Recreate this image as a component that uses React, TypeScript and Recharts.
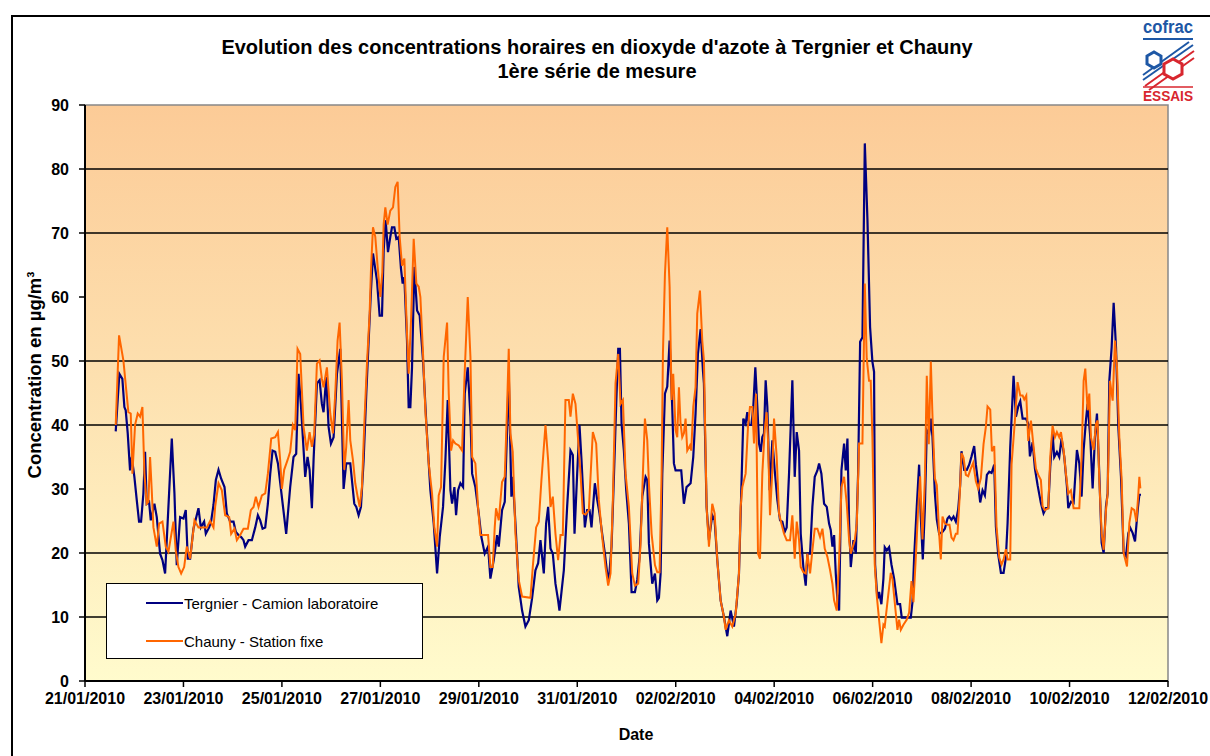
import React from 'react';
import { LineChart, Line, XAxis, YAxis, ReferenceLine, ReferenceArea } from 'recharts';

const FONT = '"Liberation Sans", Arial, Helvetica, sans-serif';

const titleLines = [
  "Evolution des concentrations horaires en dioxyde d'azote à Tergnier et Chauny",
  '1ère série de mesure',
];
const yAxisTitle = 'Concentration en µg/m³';
const xAxisTitle = 'Date';
const seriesNames = ['Tergnier - Camion laboratoire', 'Chauny - Station fixe'];

// days since 21/01/2010 00:00
const dateTicks = [0, 2, 4, 6, 8, 10, 12, 14, 16, 18, 20, 22];
const dateLabels = [
  '21/01/2010', '23/01/2010', '25/01/2010', '27/01/2010', '29/01/2010', '31/01/2010',
  '02/02/2010', '04/02/2010', '06/02/2010', '08/02/2010', '10/02/2010', '12/02/2010',
];
const yTicks = [0, 10, 20, 30, 40, 50, 60, 70, 80, 90];
const gridValues = [10, 20, 40, 50, 70, 80];

// [day, µg/m³]
const tergnierPoints: [number, number][] = [
  [0.624,39],[0.698,48],[0.759,47.2],[0.800,42.8],[0.827,42.3],[0.868,38.7],[0.915,32.9],[0.949,35],[1.003,31.9],[1.051,28.3],[1.098,24.9],[1.139,24.9],[1.186,29.3],[1.220,35.8],[1.254,27.7],[1.302,28],[1.336,25.1],[1.410,27.7],[1.458,25.6],[1.525,19.9],[1.573,18.9],[1.627,16.8],[1.661,22],[1.708,29.3],[1.763,37.9],[1.817,29.3],[1.864,18.1],[1.932,25.6],[2.000,25.4],[2.047,26.7],[2.088,19.1],[2.136,19.1],[2.203,23.8],[2.305,27],[2.353,24],[2.420,24.9],[2.454,23],[2.522,24],[2.563,25],[2.610,27.5],[2.658,31.4],[2.712,33],[2.766,31.6],[2.834,30.3],[2.881,26.2],[2.949,24.9],[3.017,24.9],[3.064,23.3],[3.119,22.8],[3.173,22.5],[3.220,22],[3.254,21],[3.322,22],[3.390,22],[3.458,24],[3.512,25.9],[3.559,25.1],[3.607,23.8],[3.661,24],[3.715,27.7],[3.763,32.4],[3.810,36],[3.864,35.8],[3.919,34],
  [3.965,31],[4.087,23],[4.168,30.3],[4.236,35],[4.290,35.5],[4.338,48],[4.385,43.3],[4.473,31.9],[4.521,35],[4.562,33],[4.609,27],[4.643,34.5],[4.711,46.5],[4.765,47],[4.812,43.3],[4.846,42],[4.901,47.5],[4.948,39.7],[4.996,37.1],[5.050,38.1],[5.118,48],[5.185,51.9],[5.253,30],[5.307,34],[5.389,34],[5.470,27.7],[5.511,27.2],[5.558,25.9],[5.606,27.2],[5.660,34.5],[5.714,44.9],[5.762,53.2],[5.809,61],[5.850,66.8],[5.931,62.6],[5.985,57.1],[6.033,57.1],[6.067,67.3],[6.107,72],[6.155,67],[6.202,69.4],[6.236,70.9],[6.284,70.9],[6.324,69.1],[6.372,69.4],[6.419,64.4],[6.453,62.1],[6.487,63.1],[6.541,53.2],[6.575,42.8],[6.609,42.8],[6.643,49],[6.690,64.7],[6.745,57.9],[6.799,57.1],[6.867,50.1],[6.934,40.2],[7.016,29.8],[7.084,24.6],[7.152,16.8],[7.206,22.5],[7.273,27.2],[7.321,34.5],[7.368,43.9],[7.423,29.8],[7.457,27.7],[7.504,30.3],[7.538,25.9],[7.579,29.8],[7.626,30.9],[7.680,30.3],[7.714,44.9],[7.775,49],[7.830,41.3],[7.864,32.4],
  [7.930,30.3],[7.998,26.2],[8.052,22.5],[8.120,19.9],[8.188,21],[8.235,16],[8.303,18.9],[8.371,22.8],[8.405,21],[8.472,26.7],[8.527,28],[8.574,39.2],[8.608,48],[8.662,28.8],[8.689,31.9],[8.744,24.6],[8.811,14.7],[8.879,11],[8.947,8.5],[9.015,9.5],[9.083,13],[9.150,17.3],[9.205,18.4],[9.252,22],[9.320,16.8],[9.367,24.6],[9.408,27.2],[9.456,20.7],[9.503,19.9],[9.557,15.2],[9.611,12.6],[9.638,11],[9.679,13.9],[9.727,17.3],[9.794,27.2],[9.862,36],[9.910,35.3],[9.944,23],[9.998,32.4],[10.045,40],[10.086,34.5],[10.154,24],[10.201,26.7],[10.249,26.7],[10.289,24],[10.357,30.9],[10.405,28.3],[10.452,26.2],[10.506,23],[10.561,19.9],[10.608,16.8],[10.642,15.8],[10.696,21],[10.744,31.9],[10.791,43.3],[10.832,51.9],[10.866,51.9],[10.900,40.2],[10.947,36],[10.994,29.8],[11.049,24.6],[11.103,13.9],[11.171,13.9],[11.218,15.8],[11.266,19.4],[11.320,28.8],[11.388,31.9],[11.422,31.4],[11.455,21.5],[11.523,15.2],[11.578,16.8],[11.625,12.6],[11.659,13],[11.693,16.8],[11.727,32.4],[11.781,44.9],[11.828,46],[11.876,53.2],
  [11.929,42.8],[11.963,34],[11.997,32.9],[12.112,32.9],[12.166,27.7],[12.220,30.3],[12.302,30.9],[12.356,35],[12.403,41.8],[12.451,51.1],[12.505,55],[12.553,48.5],[12.573,46.5],[12.627,27.2],[12.675,22],[12.742,25.9],[12.790,25.1],[12.844,18.9],[12.912,12.6],[12.980,10],[13.047,7],[13.115,11],[13.183,8.5],[13.237,12],[13.285,16.8],[13.332,29.8],[13.373,41],[13.420,40.2],[13.454,42],[13.488,40],[13.536,40],[13.576,42.8],[13.617,49],[13.658,42.8],[13.692,37.1],[13.726,35.8],[13.759,38.1],[13.793,38.7],[13.827,47],[13.861,42.8],[13.908,29.8],[13.963,37.6],[14.010,33],[14.064,28.3],[14.119,25.1],[14.166,24.9],[14.214,23.3],[14.254,24],[14.302,32.4],[14.369,47],[14.417,31.9],[14.458,38.9],[14.505,36],[14.539,23],[14.593,17.8],[14.641,14.9],[14.675,19.9],[14.729,19.9],[14.776,27.2],[14.824,31.9],[14.878,32.9],[14.912,34],[14.959,32.4],[15.014,27.7],[15.068,27.2],[15.115,24.6],[15.149,23.6],[15.183,21],[15.217,22.8],[15.251,16.8],[15.285,12.6],[15.319,11],[15.366,32.9],[15.420,37.1],[15.454,32.9],[15.488,37.9],[15.522,24.6],[15.556,17.8],[15.610,22],[15.658,19.9],[15.705,32.4],[15.746,53],[15.793,53.7],[15.841,84],[15.895,72],[15.948,55.3],[15.995,49.9],[16.029,48.3],
  [16.050,18.2],[16.097,12.8],[16.131,13.9],[16.178,12],[16.219,16],[16.246,20.9],[16.287,20.4],[16.334,20.9],[16.382,18.2],[16.436,16],[16.504,12],[16.558,12],[16.592,9.9],[16.775,9.9],[16.809,12.3],[16.843,19.3],[16.897,27.3],[16.944,33.8],[16.978,25.7],[17.019,19],[17.060,26.8],[17.100,39.2],[17.148,38.6],[17.182,41],[17.216,38.1],[17.263,29.5],[17.304,25.2],[17.351,23],[17.419,23.3],[17.467,23.8],[17.521,25.4],[17.555,25.7],[17.602,25.2],[17.643,25.7],[17.690,24.9],[17.738,26.8],[17.778,30.6],[17.805,35.9],[17.860,33],[17.914,33],[17.961,33.8],[18.009,35.1],[18.063,36.7],[18.097,33.8],[18.131,31.7],[18.185,27.9],[18.233,29.8],[18.280,29],[18.321,32.2],[18.369,32.7],[18.416,32.5],[18.470,33.8],[18.504,24.1],[18.551,19.8],[18.606,16.9],[18.660,16.9],[18.707,19.3],[18.741,24.6],[18.795,36.5],[18.863,47.7],[18.911,41.3],[18.958,42.9],[18.999,43.7],[19.047,41],[19.114,41],[19.161,40.2],[19.195,35.1],[19.250,37.3],[19.297,33.2],[19.351,30.6],
  [19.418,27.8],[19.472,26.2],[19.520,27],[19.567,27],[19.608,33.5],[19.655,38.7],[19.689,35],[19.743,35.8],[19.791,35],[19.838,37.9],[19.893,35],[19.947,30.4],[19.974,27],[20.028,28],[20.082,27.8],[20.150,36.1],[20.198,34],[20.245,28.8],[20.286,36.1],[20.333,40.7],[20.367,43.3],[20.421,38.1],[20.469,30.1],[20.516,38.1],[20.557,41.8],[20.604,32.4],[20.652,21.6],[20.693,20],[20.740,27.3],[20.774,29.3],[20.808,46.9],[20.855,52.1],[20.896,59.1],[20.944,52.1],[20.991,39.7],[21.045,31.9],[21.099,20],[21.147,19.5],[21.194,23.1],[21.235,23.9],[21.283,23.1],[21.330,21.8],[21.384,26.7],[21.418,29.1],[21.452,29.1],
];

const chaunyPoints: [number, number][] = [
  [0.624,40],[0.692,54],[0.780,50.1],[0.881,42],[0.929,41.8],[0.963,32.4],[1.017,40],[1.071,41.8],[1.119,41.3],[1.166,42.8],[1.207,32.4],[1.254,27.7],[1.288,28],[1.322,35],[1.356,29.8],[1.390,24],[1.458,21],[1.505,24.6],[1.573,24.9],[1.641,21],[1.695,20.2],[1.797,24.9],[1.844,20.4],[1.898,17.8],[1.953,16.8],[2.014,17.8],[2.068,21],[2.136,19.1],[2.224,25.1],[2.305,24],[2.407,24],[2.475,24],[2.542,25],[2.610,24],[2.644,27.2],[2.712,30.9],[2.780,29.8],[2.847,25.9],[2.929,25.6],[2.969,23],[3.037,23.8],[3.085,22],[3.153,22.8],[3.220,23.8],[3.308,23.8],[3.369,26.7],[3.424,27.2],[3.471,28.8],[3.525,27.2],[3.593,29],[3.661,29.3],[3.715,32.4],[3.783,37.9],[3.864,38.1],[3.919,38.9],
  [3.965,34.5],[3.999,30],[4.046,33],[4.114,34.5],[4.168,35.8],[4.223,40],[4.270,39.2],[4.318,51.9],[4.372,51.1],[4.440,39.7],[4.507,36],[4.562,38.9],[4.609,36.6],[4.657,38.7],[4.711,49.6],[4.765,50.1],[4.812,47.2],[4.846,45.9],[4.914,49],[4.982,41.8],[5.036,38.7],[5.084,44.9],[5.131,53.2],[5.172,56],[5.219,47],[5.267,33],[5.307,36.6],[5.355,43.9],[5.389,37.6],[5.443,34.5],[5.490,30.9],[5.538,28.8],[5.579,27.2],[5.626,30.3],[5.674,40.2],[5.728,49.6],[5.782,57.4],[5.809,64.2],[5.850,70.9],[5.897,69.4],[5.945,64.7],[5.999,60],[6.040,63.9],[6.067,71.3],[6.101,74],[6.148,71.3],[6.202,73.5],[6.257,74],[6.304,77.2],[6.351,78],[6.392,69.4],[6.440,64.9],[6.487,66],[6.541,54.3],[6.575,48],[6.623,56.3],[6.677,69.1],[6.731,62.1],[6.779,61.6],[6.813,60],[6.867,51.1],[6.914,42.3],[6.982,34],[7.050,29.3],[7.097,24],[7.152,21],[7.185,29],[7.233,30.3],[7.287,50.6],[7.355,56],[7.389,44.9],[7.436,36],[7.477,37.6],[7.524,37.1],[7.592,36.8],[7.660,36],[7.707,47],[7.775,60],[7.830,50.6],[7.864,35],
  [7.930,34],[7.984,27.2],[8.032,22.8],[8.188,22.8],[8.235,17.8],[8.283,17.8],[8.323,24],[8.350,27],[8.405,25.1],[8.472,31.1],[8.527,31.9],[8.574,42.8],[8.608,51.9],[8.642,38.7],[8.689,35.8],[8.744,23],[8.811,15.8],[8.879,13.2],[9.049,13],[9.096,17.8],[9.164,24],[9.218,24.9],[9.272,31.4],[9.354,40],[9.408,34.5],[9.456,27.2],[9.503,28.8],[9.557,23],[9.611,18.9],[9.659,22.8],[9.706,22.8],[9.760,43.9],[9.828,43.9],[9.862,41.3],[9.910,44.9],[9.964,43.3],[10.018,37.6],[10.066,32.4],[10.113,26.2],[10.167,26],[10.235,26.7],[10.269,31.9],[10.316,38.9],[10.384,37.1],[10.438,28.3],[10.506,22.5],[10.574,17.8],[10.628,14.9],[10.676,16.8],[10.723,28.3],[10.777,46.5],[10.832,51.1],[10.879,43.3],[10.927,43.9],[10.981,32.4],[11.049,27.2],[11.117,16.8],[11.171,14.9],[11.238,15.2],[11.286,21.5],[11.333,32.4],[11.374,41],[11.422,37.6],[11.455,30.9],[11.510,23],[11.578,18.1],[11.625,17],[11.672,17],[11.713,32.4],[11.740,51.1],[11.781,63.6],[11.828,70.9],[11.876,61.6],[11.916,43.9],[11.949,48],[11.997,39.2],
  [12.031,38.1],[12.065,45.9],[12.098,40.2],[12.132,38.1],[12.166,38.7],[12.200,41],[12.234,36],[12.288,36.8],[12.315,36],[12.356,42.8],[12.403,45.9],[12.437,57.4],[12.492,61],[12.539,53.2],[12.573,50.1],[12.627,27.2],[12.675,21],[12.742,27.7],[12.790,26.2],[12.844,18.9],[12.912,12.6],[12.980,10],[13.014,8],[13.081,9.5],[13.149,8.5],[13.217,10.5],[13.285,16.8],[13.319,27.2],[13.353,30.3],[13.420,32.4],[13.468,39.7],[13.508,42.8],[13.556,42.8],[13.590,37.1],[13.631,44.9],[13.671,19.9],[13.712,19.1],[13.759,32.4],[13.807,39.2],[13.847,42],[13.875,37.6],[13.915,25.9],[13.963,32.9],[13.997,41],[14.051,35],[14.098,26.2],[14.146,24.6],[14.200,23],[14.254,22],[14.322,22],[14.369,25.9],[14.417,19.1],[14.458,24.9],[14.505,22],[14.539,17.8],[14.593,17],[14.641,16.8],[14.675,19.9],[14.729,16.8],[14.776,20.4],[14.824,23.8],[14.878,23.8],[14.932,22.5],[14.980,23.8],[15.027,20.7],[15.081,19.4],[15.136,17.3],[15.183,15.2],[15.217,12.6],[15.271,11],[15.319,19],[15.366,30.3],[15.420,31.9],[15.474,27.7],[15.522,22],[15.556,19.9],[15.637,22],[15.678,24.6],[15.725,37.1],[15.793,37.1],[15.841,62.1],[15.880,50.4],[15.927,46.9],[15.961,46.9],[15.995,38.1],
  [16.043,18.2],[16.083,13.4],[16.131,9.6],[16.178,5.9],[16.219,8.8],[16.246,8.5],[16.300,12.3],[16.368,16.9],[16.402,16],[16.449,12.3],[16.504,8],[16.538,9.6],[16.572,8],[16.626,8.8],[16.694,9.6],[16.741,10.7],[16.789,15.6],[16.829,12.3],[16.877,19.3],[16.924,26.8],[16.965,32],[17.012,22.1],[17.060,31.2],[17.100,47.7],[17.141,37],[17.182,49.9],[17.216,41.3],[17.263,31.7],[17.304,30.6],[17.351,23],[17.385,19],[17.419,25.7],[17.467,24.6],[17.521,24.4],[17.561,24.4],[17.602,22.4],[17.643,22],[17.690,23],[17.724,23],[17.765,28.4],[17.805,35.6],[17.846,34.9],[17.894,32.2],[17.941,32],[17.995,33.2],[18.043,34.1],[18.097,31.2],[18.144,30.1],[18.199,31.7],[18.253,37],[18.300,39.7],[18.334,42.9],[18.389,42.4],[18.422,35.9],[18.470,36.7],[18.517,24.1],[18.572,19.3],[18.619,18.2],[18.660,19],[18.707,20.6],[18.741,19],[18.795,19],[18.822,33.8],[18.890,40.7],[18.944,46.7],[18.999,44.6],[19.047,44.6],[19.080,44],[19.121,44.6],[19.161,37.5],[19.216,40.7],[19.270,36.5],[19.317,33.2],[19.365,32.2],
  [19.418,31.4],[19.452,27.3],[19.499,26.7],[19.567,27],[19.608,35],[19.655,39.9],[19.703,38.1],[19.743,38.9],[19.791,38.1],[19.825,38.9],[19.879,36.1],[19.926,32.4],[19.974,29.3],[20.028,29.8],[20.082,27],[20.198,27],[20.245,35],[20.286,46.9],[20.320,48.8],[20.367,42.3],[20.401,44.9],[20.435,38.1],[20.489,36.1],[20.537,40.2],[20.570,40.7],[20.604,31.4],[20.652,23.1],[20.693,20.5],[20.740,26.7],[20.774,29.3],[20.822,46.9],[20.876,43.8],[20.923,53.2],[20.964,49],[21.011,38.1],[21.059,31.4],[21.099,20],[21.167,17.9],[21.215,24.7],[21.262,27],[21.316,26.7],[21.357,24.9],[21.398,29.3],[21.418,31.9],[21.438,30.1],
];

const BLUE = '#000080';
const ORANGE = '#FF6600';

const toData = (pts: [number, number][]) => pts.map(([t, v]) => ({ t, v }));
const tergnierData = toData(tergnierPoints);
const chaunyData = toData(chaunyPoints);

const fmtDate = (v: number) => {
  const i = dateTicks.indexOf(v);
  return i >= 0 ? dateLabels[i] : '';
};

const tickStyle = { fill: '#000', fontSize: 16, fontWeight: 'bold' as const, fontFamily: FONT };

function Logo() {
  return (
    <svg width={70} height={90} style={{ position: 'absolute', left: 1139, top: 17 }}>
      <text x={29} y={16} textAnchor="middle" fill="#1d57a5" fontFamily={FONT} fontWeight="bold" fontSize={18} textLength={50} lengthAdjust="spacingAndGlyphs">cofrac</text>
      <line x1={4} y1={22} x2={54} y2={22} stroke="#1d57a5" strokeWidth={2} />
      <line x1={4} y1={58} x2={50} y2={25} stroke="#1d57a5" strokeWidth={2} />
      <line x1={4} y1={63} x2={54} y2={28} stroke="#1d57a5" strokeWidth={2} />
      <line x1={6} y1={69} x2={55} y2={34} stroke="#d8262e" strokeWidth={2} />
      <line x1={10} y1={73} x2={55} y2={41} stroke="#d8262e" strokeWidth={2} />
      <polygon points="8,39 15,35 22,39 22,47 15,51 8,47" fill="#fff" stroke="#1d57a5" strokeWidth={3} />
      <polygon points="25,47 34,42 43,47 43,57 34,62 25,57" fill="#fff" stroke="#d8262e" strokeWidth={3} />
      <line x1={4} y1={70} x2={54} y2={70} stroke="#d8262e" strokeWidth={1.5} />
      <text x={29} y={84} textAnchor="middle" fill="#d8262e" fontFamily={FONT} fontWeight="bold" fontSize={14} textLength={50} lengthAdjust="spacingAndGlyphs">ESSAIS</text>
    </svg>
  );
}

function LegendBox() {
  return (
    <div style={{ position: 'absolute', left: 106, top: 583, width: 317, height: 76, border: '1px solid #000', background: '#fff', boxSizing: 'border-box', fontFamily: FONT, fontSize: 15 }}>
      {seriesNames.map((name, i) => (
        <div key={name} style={{ position: 'absolute', left: 39, top: i === 0 ? 9 : 47, height: 20, display: 'flex', alignItems: 'center' }}>
          <div style={{ width: 37, height: i === 0 ? 2.5 : 1.5, background: i === 0 ? BLUE : ORANGE }} />
          <span style={{ marginLeft: 1, whiteSpace: 'nowrap', color: '#000' }}>{name}</span>
        </div>
      ))}
    </div>
  );
}

export default function App() {
  return (
    <div style={{ position: 'fixed', left: 0, top: 0, width: 1210, height: 756, overflow: 'hidden', background: '#fff', fontFamily: FONT }}>
      <div style={{ position: 'absolute', left: 11, top: 15, width: 1300, height: 900, border: '2px solid #000', boxSizing: 'border-box' }} />
      <div style={{ position: 'absolute', left: 0, top: 0 }}>
        <LineChart width={1210} height={756} margin={{ top: 105, right: 42, bottom: 45, left: 0 }}>
          <defs>
            <linearGradient id="plotBg" x1="0" y1="0" x2="0" y2="1">
              <stop offset="0%" stopColor="#FCCB97" />
              <stop offset="45%" stopColor="#FDDFAE" />
              <stop offset="100%" stopColor="#FFFBCD" />
            </linearGradient>
          </defs>
          <XAxis
            type="number"
            dataKey="t"
            domain={[0, 22]}
            ticks={dateTicks}
            interval={0}
            allowDataOverflow
            tickFormatter={fmtDate}
            height={30}
            tickSize={6}
            tickMargin={6}
            axisLine={{ stroke: '#000', strokeWidth: 2 }}
            tickLine={{ stroke: '#000', strokeWidth: 1.5 }}
            tick={tickStyle}
          />
          <YAxis
            type="number"
            domain={[0, 90]}
            ticks={yTicks}
            interval={0}
            allowDataOverflow
            width={85}
            tickSize={6}
            tickMargin={10}
            axisLine={{ stroke: '#000', strokeWidth: 2 }}
            tickLine={{ stroke: '#000', strokeWidth: 1.5 }}
            tick={tickStyle}
          />
          <ReferenceArea x1={0} x2={22} y1={0} y2={90} fill="url(#plotBg)" fillOpacity={1} stroke="#888" strokeWidth={1.5} ifOverflow="visible" />
          {gridValues.map((v) => (
            <ReferenceLine key={v} y={v} stroke="#000" strokeWidth={1.3} />
          ))}
          <Line data={tergnierData} dataKey="v" name={seriesNames[0]} type="linear" stroke={BLUE} strokeWidth={2.2} dot={false} activeDot={false} isAnimationActive={false} />
          <Line data={chaunyData} dataKey="v" name={seriesNames[1]} type="linear" stroke={ORANGE} strokeWidth={2} dot={false} activeDot={false} isAnimationActive={false} />
        </LineChart>
      </div>
      <svg width={1210} height={756} style={{ position: 'absolute', left: 0, top: 0, pointerEvents: 'none' }}>
        <text x={597} y={54} textAnchor="middle" fontFamily={FONT} fontWeight="bold" fontSize={20} fill="#000">{titleLines[0]}</text>
        <text x={597} y={78} textAnchor="middle" fontFamily={FONT} fontWeight="bold" fontSize={20} fill="#000">{titleLines[1]}</text>
        <text x={0} y={0} transform="translate(41 375) rotate(-90)" textAnchor="middle" fontFamily={FONT} fontWeight="bold" fontSize={18.5} fill="#000">{yAxisTitle}</text>
        <text x={636} y={740} textAnchor="middle" fontFamily={FONT} fontWeight="bold" fontSize={16} fill="#000">{xAxisTitle}</text>
      </svg>
      <LegendBox />
      <Logo />
    </div>
  );
}
